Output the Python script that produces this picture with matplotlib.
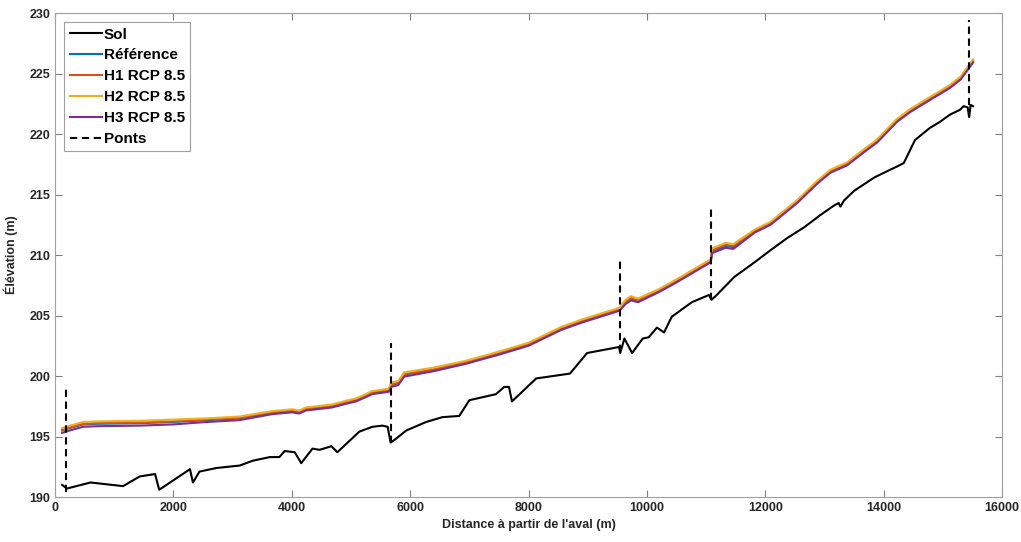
import matplotlib
matplotlib.use('Agg')
import matplotlib.pyplot as plt
import numpy as np

plt.rcParams['font.family'] = ['Liberation Sans', 'DejaVu Sans']
plt.rcParams['font.weight'] = 'bold'

#%% data
sol_x = [120, 200, 600, 1150, 1430, 1690, 1760, 2280, 2330, 2440, 2730, 3120, 3340, 3630,
         3790, 3880, 4050, 4160, 4350, 4470, 4670, 4770, 5140, 5360, 5530, 5620, 5670, 5730,
         5935, 6270, 6545, 6830, 7000, 7450, 7590, 7670, 7720, 8130, 8700, 8990, 9530, 9550,
         9620, 9750, 9930, 10030, 10170, 10290, 10420, 10760, 11050, 11090, 11160, 11480,
         11820, 12090, 12370, 12660, 12930, 13165, 13240, 13270, 13330, 13500, 13840, 14090,
         14220, 14340, 14530, 14780, 14950, 15120, 15290, 15350, 15420, 15445, 15470, 15510]
sol_y = [191.0, 190.7, 191.2, 190.9, 191.7, 191.9, 190.6, 192.3, 191.2, 192.1, 192.4, 192.6,
         193.0, 193.3, 193.3, 193.8, 193.7, 192.8, 194.0, 193.9, 194.2, 193.7, 195.4, 195.8,
         195.9, 195.8, 194.5, 194.7, 195.5, 196.2, 196.6, 196.7, 198.0, 198.5, 199.1, 199.1,
         197.9, 199.8, 200.2, 201.9, 202.4, 201.9, 203.1, 201.9, 203.1, 203.2, 204.0, 203.6,
         204.9, 206.1, 206.7, 206.3, 206.6, 208.2, 209.4, 210.4, 211.4, 212.3, 213.3, 214.1,
         214.3, 214.0, 214.5, 215.3, 216.4, 217.0, 217.3, 217.6, 219.5, 220.5, 221.0, 221.6,
         222.0, 222.3, 222.2, 221.4, 222.4, 222.3]

eau_x = [120, 250, 470, 700, 1430, 2000, 2560, 3115, 3670, 4005, 4125, 4240, 4680, 4915,
         5085, 5250, 5355, 5640, 5680, 5800, 5900, 6400, 6935, 7490, 8000, 8550, 8890, 9540,
         9640, 9730, 9850, 10190, 10470, 11080, 11100, 11330, 11460, 11820, 12090, 12540,
         12880, 13100, 13380, 13670, 13890, 14225, 14445, 14780, 15120, 15300, 15510]
ref_y = [195.5, 195.7, 196.0, 196.05, 196.1, 196.2, 196.35, 196.5, 196.95, 197.1, 197.0,
         197.25, 197.5, 197.8, 198.0, 198.35, 198.6, 198.8, 199.25, 199.4, 200.1, 200.5,
         201.1, 201.85, 202.6, 203.9, 204.5, 205.5, 206.1, 206.4, 206.2, 207.0, 207.75, 209.5,
         210.3, 210.75, 210.65, 211.95, 212.6, 214.4, 216.0, 216.9, 217.5, 218.6, 219.4, 221.1,
         221.9, 222.9, 223.9, 224.6, 226.0]
h1_y = [195.55, 195.75, 196.05, 196.1, 196.15, 196.25, 196.4, 196.55, 197.0, 197.15, 197.05,
        197.3, 197.55, 197.85, 198.05, 198.4, 198.65, 198.85, 199.3, 199.45, 200.15, 200.55,
        201.15, 201.9, 202.65, 203.95, 204.55, 205.55, 206.15, 206.45, 206.25, 207.05, 207.8,
        209.55, 210.4, 210.85, 210.75, 212.0, 212.65, 214.45, 216.05, 216.95, 217.55, 218.65,
        219.45, 221.15, 221.95, 222.95, 223.95, 224.65, 226.05]
h2_y = [195.7, 195.9, 196.2, 196.25, 196.3, 196.4, 196.5, 196.65, 197.1, 197.25, 197.15,
        197.4, 197.65, 197.95, 198.15, 198.5, 198.75, 198.95, 199.45, 199.6, 200.3, 200.7,
        201.25, 202.0, 202.75, 204.05, 204.65, 205.65, 206.3, 206.6, 206.4, 207.15, 207.9,
        209.65, 210.55, 211.0, 210.9, 212.1, 212.75, 214.55, 216.15, 217.05, 217.65, 218.75,
        219.55, 221.25, 222.05, 223.05, 224.05, 224.75, 226.15]
h3_y = [195.3, 195.5, 195.8, 195.85, 195.9, 196.0, 196.2, 196.35, 196.85, 197.0, 196.9,
        197.15, 197.4, 197.7, 197.9, 198.25, 198.5, 198.7, 199.1, 199.25, 199.95, 200.4,
        201.0, 201.75, 202.5, 203.8, 204.4, 205.4, 205.95, 206.25, 206.1, 206.9, 207.65, 209.4,
        210.15, 210.6, 210.5, 211.85, 212.5, 214.3, 215.9, 216.8, 217.4, 218.5, 219.3, 221.0,
        221.8, 222.8, 223.8, 224.5, 225.9]

ponts_x = [185, 5670, 9545, 11090, 15445]
ponts_bas = [190.4, 194.5, 202.0, 206.3, 221.4]
ponts_haut = [199.0, 202.7, 209.8, 214.1, 229.4]

#%% figure
fig = plt.figure(figsize=(10.21, 5.42), dpi=100)
ax = fig.add_axes([0.0539, 0.083, 0.9275, 0.893])

lw = 1.5
ax.plot(sol_x, sol_y, color='k', lw=lw, label='Sol')
ax.plot(eau_x, ref_y, color=(0, 0.447, 0.741), lw=lw, label='Référence')
ax.plot(eau_x, h1_y, color=(0.85, 0.325, 0.098), lw=lw, label='H1 RCP 8.5')
ax.plot(eau_x, h2_y, color=(0.929, 0.694, 0.125), lw=lw, label='H2 RCP 8.5')
ax.plot(eau_x, h3_y, color=(0.494, 0.184, 0.556), lw=lw, label='H3 RCP 8.5')

px, py = [], []
for i in range(len(ponts_x)):
    px += [ponts_x[i], ponts_x[i], np.nan]
    py += [ponts_bas[i], ponts_haut[i], np.nan]
ax.plot(px, py, color='k', lw=lw, ls=(0, (3.5, 2.2)), label='Ponts')

ax.set_xlim(0, 16000)
ax.set_ylim(190, 230)
ax.set_xticks(np.arange(0, 16001, 2000))
ax.set_yticks(np.arange(190, 231, 5))
ax.tick_params(direction='in', length=5, top=True, right=True, labelsize=9,
               labelcolor='#262626', color='#808080', width=0.8)
for lab in ax.get_xticklabels() + ax.get_yticklabels():
    lab.set_fontweight('bold')
for s in ax.spines.values():
    s.set_color('#a0a0a0')
    s.set_linewidth(0.8)

ax.set_xlabel("Distance à partir de l'aval (m)", fontsize=9, fontweight='bold',
              color='#262626', labelpad=4)
ax.set_ylabel('Élévation (m)', fontsize=9, fontweight='bold', color='#262626', labelpad=8)

leg = ax.legend(loc='upper left', fontsize=11, handlelength=2.1, handletextpad=0.15,
                labelspacing=0.45, borderpad=0.35, borderaxespad=0.6, fancybox=False,
                framealpha=1)
leg.get_frame().set_edgecolor('#a0a0a0')
leg.get_frame().set_linewidth(0.8)
for t in leg.get_texts():
    t.set_fontweight('bold')

fig.savefig('out.png', dpi=100)
